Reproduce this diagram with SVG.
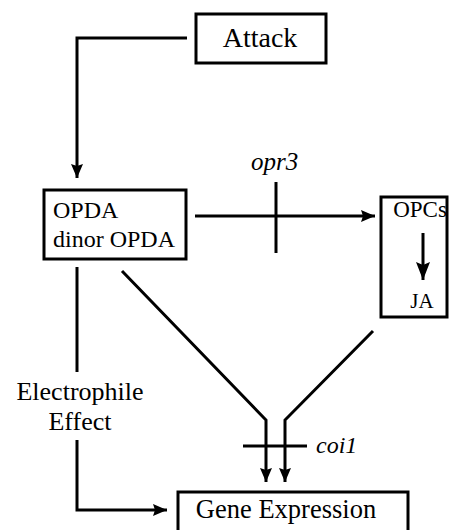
<svg xmlns="http://www.w3.org/2000/svg" width="449" height="530" viewBox="0 0 449 530">
<style>
.box{fill:#fff;stroke:#000;stroke-width:3}
.ln{fill:none;stroke:#000;stroke-width:3}
text{font-family:'Liberation Serif','Times New Roman','DejaVu Serif',serif;fill:#000}
.i{font-style:italic}
</style>
<defs>
<marker id="ah" viewBox="0 0 14 12" refX="14" refY="6" markerWidth="14" markerHeight="12" markerUnits="userSpaceOnUse" orient="auto">
<path d="M0,0 L14,6 L0,12 L2,6 Z" fill="#000"/>
</marker>
<marker id="ahb" viewBox="0 0 18 14" refX="18" refY="7" markerWidth="18" markerHeight="14" markerUnits="userSpaceOnUse" orient="auto">
<path d="M0,0 L18,7 L0,14 L3,7 Z" fill="#000"/>
</marker>
</defs>
<rect width="449" height="530" fill="#fff"/>
<g id="attack">
<rect class="box" x="196" y="14" width="130" height="49"/>
<text x="260" y="47" font-size="28" text-anchor="middle" font-family="Liberation Serif, serif">Attack</text>
</g>
<g id="opda">
<rect class="box" x="44" y="190" width="142" height="69"/>
<text x="53" y="218" font-size="24" font-family="Liberation Serif, serif">OPDA</text>
<text x="53" y="247" font-size="24" font-family="Liberation Serif, serif">dinor OPDA</text>
</g>
<g id="opcs">
<rect class="box" x="381" y="197" width="66" height="120"/>
<text x="420" y="217" font-size="23" text-anchor="middle" font-family="Liberation Serif, serif">OPCs</text>
<text x="422" y="308" font-size="21" text-anchor="middle" font-family="Liberation Serif, serif">JA</text>
</g>
<g id="opr3-label">
<text class="i" x="251" y="170" font-size="25" font-family="Liberation Serif, serif">opr3</text>
</g>
<g id="electrophile">
<text x="80" y="400" font-size="26" text-anchor="middle" font-family="Liberation Serif, serif">Electrophile</text>
<text x="80" y="430" font-size="26" text-anchor="middle" font-family="Liberation Serif, serif">Effect</text>
</g>
<g id="coi1-label">
<text class="i" x="316" y="453" font-size="24" font-family="Liberation Serif, serif">coi1</text>
</g>
<g id="gene">
<rect class="box" x="178" y="492" width="230" height="50"/>
<text x="286" y="518" font-size="26.5" text-anchor="middle" font-family="Liberation Serif, serif">Gene Expression</text>
</g>
<g id="connectors">
<path class="ln" d="M187,38 H77 V178" marker-end="url(#ah)"/>
<path class="ln" d="M195,216 H375" marker-end="url(#ah)"/>
<path class="ln" d="M276,182 V253"/>
<path class="ln" d="M77,267 V372"/>
<path class="ln" d="M77,440 V510 H167" marker-end="url(#ah)"/>
<path class="ln" d="M122,271 L266,420 V482" marker-end="url(#ah)"/>
<path class="ln" d="M373,331 L285,420 V482" marker-end="url(#ah)"/>
<path class="ln" d="M243,446 H307"/>
<path class="ln" d="M423,233 V280" marker-end="url(#ahb)"/>
</g>
</svg>
